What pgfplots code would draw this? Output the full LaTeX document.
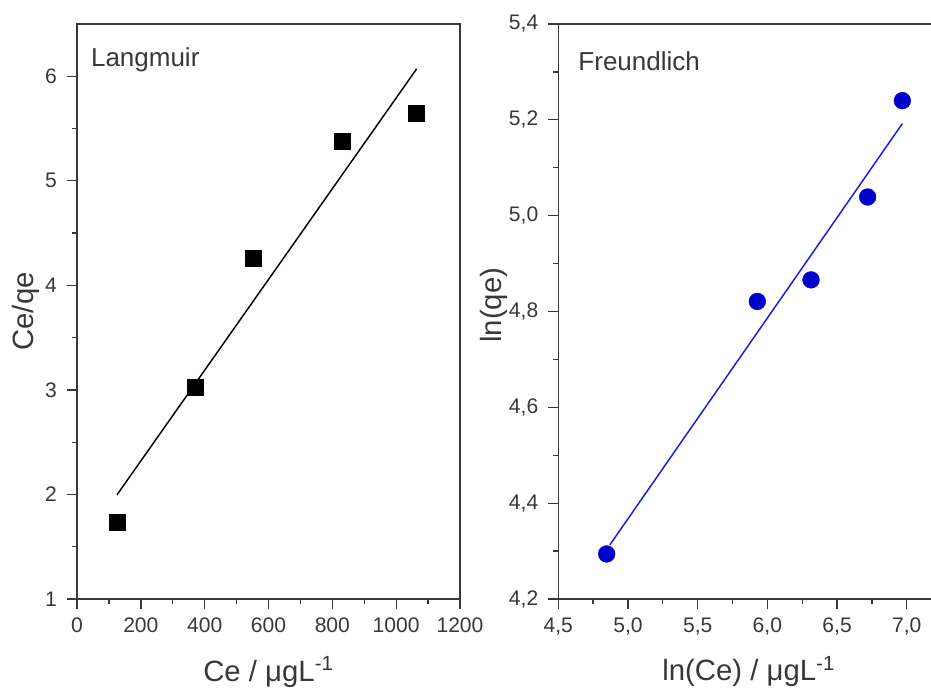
\documentclass[border=0pt]{standalone}
\usepackage{pgfplots}
\pgfplotsset{compat=1.18}
\usepackage{fontspec}
\setmainfont{Liberation Sans}
\definecolor{axgray}{gray}{0.22}
\definecolor{fblue}{RGB}{0,0,204}
\definecolor{lblue}{RGB}{20,30,225}
\begin{document}
\begin{tikzpicture}
\pgfplotsset{
  common/.style={
    scale only axis,
    height=431.25pt,
    axis line style={axgray, line width=1.1pt},
    tick style={axgray, line width=1pt},
    tick align=outside,
    major tick length=7.5pt,
    minor tick length=3.75pt,
    xtick pos=bottom,
    ytick pos=left,
    ticklabel style={font=\fontsize{15.8}{18}\selectfont, text=axgray},
    xticklabel style={yshift=-3pt},
    yticklabel style={xshift=-4pt},
    label style={font=\fontsize{22}{26}\selectfont, text=axgray},
    /pgf/number format/assume math mode=true,
    clip=false,
  }
}
\begin{axis}[common,
  at={(57.75pt,-449.25pt)}, anchor=south west,
  width=287.25pt,
  xmin=0, xmax=1200, ymin=1, ymax=6.5,
  xtick={0,200,...,1200}, minor x tick num=1,
  ytick={1,2,3,4,5,6}, minor y tick num=1,
  /pgf/number format/1000 sep={},
  xlabel={Ce / μgL\textsuperscript{-1}},
  ylabel={Ce/qe},
  xlabel style={at={(axis description cs:0.5,-0.1426)}, anchor=base},
  ylabel style={at={(axis description cs:-0.114,0.5)}, anchor=base, rotate=0},
]
\addplot[only marks, mark=square*, mark size=6pt, mark options={fill=black, draw=black, line width=0.5pt}]
  coordinates {(125,1.73) (372,3.02) (552,4.255) (832,5.375) (1064,5.65)};
\addplot[no marks, black, line width=1.1pt]
  coordinates {(125,1.995) (1064,6.07)};
\node[anchor=base west, inner sep=0pt, font=\fontsize{19.5}{23}\selectfont, text=axgray]
  at (rel axis cs:0.036,0.926) {Langmuir};
\end{axis}
\begin{axis}[common,
  at={(418.7pt,-449.25pt)}, anchor=south west,
  width=282.3pt,
  xmin=4.5, xmax=7.2, ymin=4.2, ymax=5.4,
  xtick={4.5,5.0,...,7.0}, minor x tick num=1,
  ytick={4.2,4.4,...,5.4}, minor y tick num=1,
  /pgf/number format/.cd, use comma, fixed, fixed zerofill, precision=1,
  /pgfplots/.cd,
  xlabel={ln(Ce) / μgL\textsuperscript{-1}},
  ylabel={ln(qe)},
  xlabel style={at={(axis description cs:0.506,-0.1426)}, anchor=base},
  ylabel style={at={(axis description cs:-0.150,0.511)}, anchor=base, rotate=0},
]
\addplot[only marks, mark=*, mark size=6.3pt, mark options={fill=fblue, draw=fblue, line width=0.3pt}]
  coordinates {(4.847,4.294) (5.928,4.821) (6.313,4.866) (6.719,5.039) (6.968,5.240)};
\addplot[no marks, lblue, line width=1.1pt]
  coordinates {(4.87,4.313) (6.968,5.192)};
\node[anchor=base west, inner sep=0pt, font=\fontsize{19.5}{23}\selectfont, text=axgray]
  at (rel axis cs:0.053,0.919) {Freundlich};
\end{axis}
\pgfresetboundingbox
\useasboundingbox (0,0) rectangle (698.25pt,-516pt);
\end{tikzpicture}
\end{document}
